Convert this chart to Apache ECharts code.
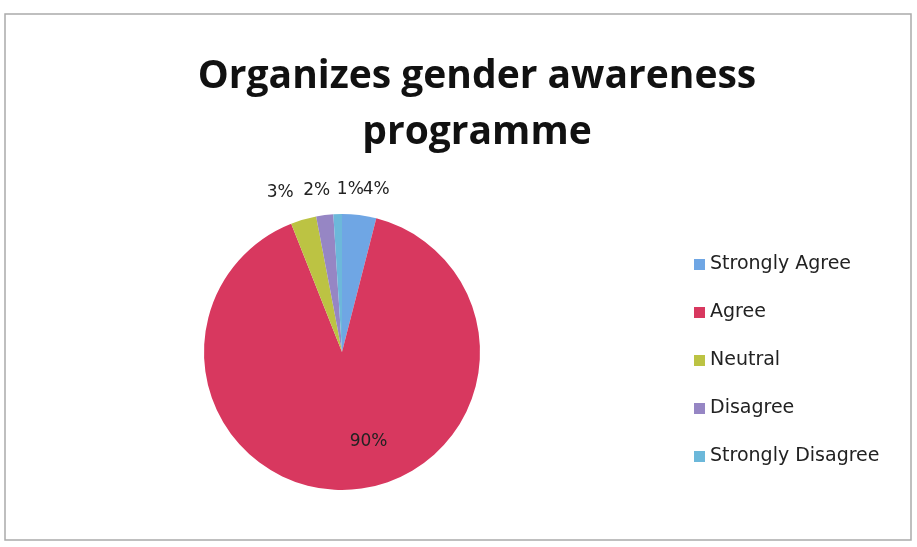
<!DOCTYPE html>
<html>
<head>
<meta charset="utf-8">
<script src="https://cdn.jsdelivr.net/npm/echarts@6/dist/echarts.min.js"></script>
<style>
  html, body { margin: 0; padding: 0; background: #fff; }
  #chart { width: 917px; height: 547px; }
</style>
</head>
<body>
<div id="chart"></div>
<script>
const categories = ['Strongly Agree', 'Agree', 'Neutral', 'Disagree', 'Strongly Disagree']
const values = [4, 90, 3, 2, 1]
const colors = ['#6fa6e4', '#d8385f', '#bcc343', '#9686c4', '#6cb8da']

const chart = echarts.init(document.getElementById('chart'))

// small nudges so the crowded outside labels sit like the original
const labelShift = [[0, 2], [0, 0], [-2, 0], [9, 3], [27, 3]]

const seriesData = categories.map((name, i) => {
  const item = { name: name, value: values[i] }
  if (name === 'Agree') {
    item.label = { position: 'inside', offset: [22, 18] }
  }
  return item
})

chart.setOption({
  color: colors,
  title: {
    text: 'Organizes gender awareness\nprogramme',
    left: 472,
    textAlign: 'center',
    top: 44,
    textStyle: {
      fontFamily: 'Open Sans',
      fontWeight: 'bold',
      fontSize: 39,
      lineHeight: 56,
      color: '#111'
    }
  },
  legend: {
    orient: 'vertical',
    left: 689,
    top: 250,
    itemWidth: 11,
    itemHeight: 11,
    itemGap: 29,
    itemTextGap: 8,
    icon: 'rect',
    textStyle: {
      fontFamily: 'DejaVu Sans',
      fontSize: 19,
      color: '#222'
    },
    data: categories
  },
  graphic: [{
    type: 'rect',
    shape: { x: 5, y: 14, width: 906, height: 526 },
    style: { fill: 'none', stroke: '#aaa', lineWidth: 1.5 },
    silent: true
  }],
  series: [{
    type: 'pie',
    center: [342, 352],
    radius: 138,
    startAngle: 90,
    clockwise: true,
    avoidLabelOverlap: false,
    label: {
      show: true,
      formatter: '{d}%',
      fontFamily: 'DejaVu Sans',
      fontSize: 17,
      color: '#222',
      distanceToLabelLine: 0
    },
    labelLine: { show: false, length: 28, length2: 0 },
    labelLayout: function (params) {
      const s = labelShift[params.dataIndex]
      return { dx: s[0], dy: s[1], hideOverlap: false }
    },
    itemStyle: { borderWidth: 0 },
    emphasis: { disabled: true },
    data: seriesData
  }]
})
</script>
</body>
</html>
